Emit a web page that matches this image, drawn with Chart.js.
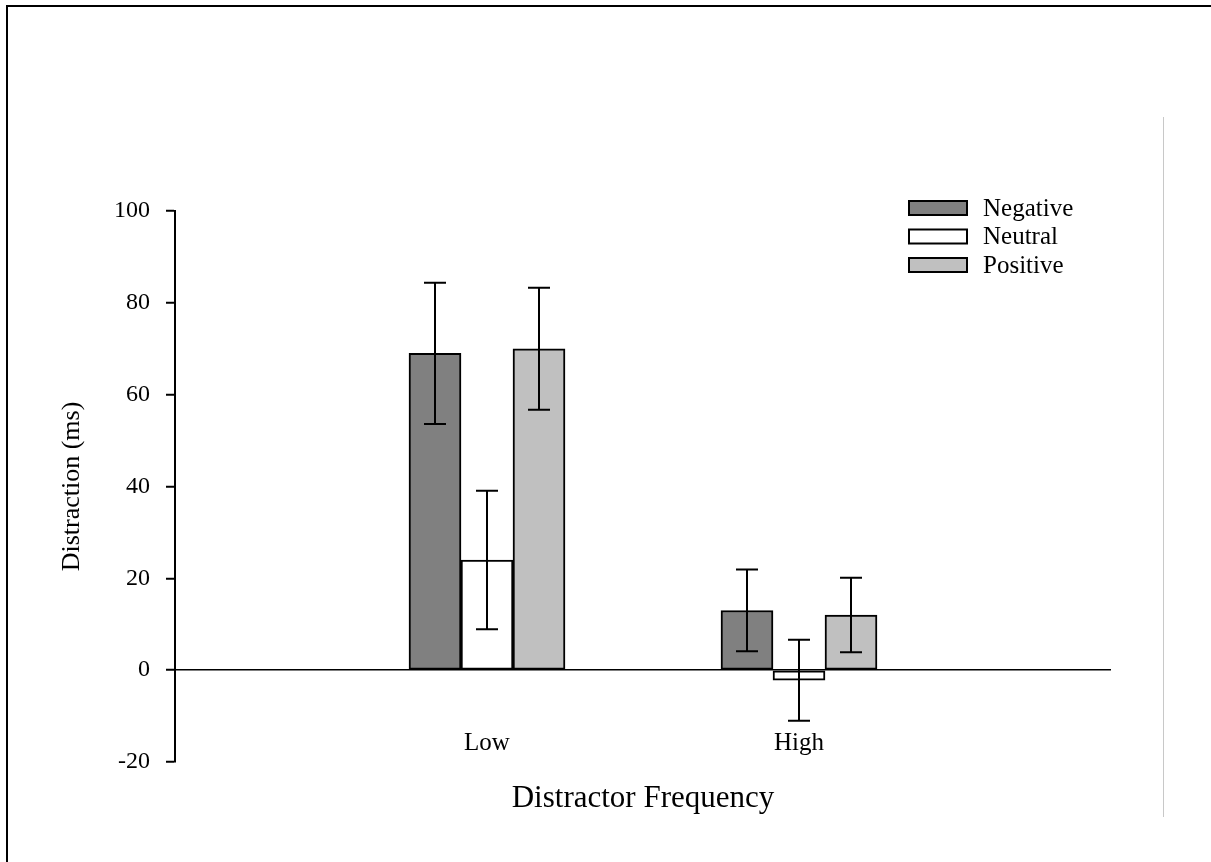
<!DOCTYPE html>
<html>
<head>
<meta charset="utf-8">
<title>Distraction by Distractor Frequency</title>
<script src="https://cdn.jsdelivr.net/npm/chart.js@4.4.1/dist/chart.umd.min.js"></script>
<style>
  html, body { margin: 0; padding: 0; background: #fff; }
  #wrap { position: relative; width: 1211px; height: 862px; }
</style>
</head>
<body>
<div id="wrap"><canvas id="chart" width="1211" height="862"></canvas></div>
<script>
// Data
const categories = ['Low', 'High'];
const seriesNames = ['Negative', 'Neutral', 'Positive'];
const negativeValues = [69.0, 13.0];
const neutralValues = [24.0, -2.2];
const positiveValues = [70.0, 12.0];
const negativeErr = [15.4, 8.9];
const neutralErr = [15.1, 8.8];
const positiveErr = [13.3, 8.1];
const yTicks = [-20, 0, 20, 40, 60, 80, 100];

const fills = ['#808080', '#ffffff', '#c0c0c0'];
const serif = "'Liberation Serif', 'Times New Roman', serif";

// empty slots at both ends so the two groups sit at 1/3 and 2/3 of the axis
const labels = [''].concat(categories, ['']);
function pad(arr) { return [null].concat(arr, [null]); }

// Error bars drawn at each bar's own position
const errorBars = {
    id: 'errorBars',
    afterDatasetsDraw(chart) {
        const ctx = chart.ctx;
        const y = chart.scales.y;
        const errs = [negativeErr, neutralErr, positiveErr];
        ctx.save();
        ctx.strokeStyle = '#000';
        ctx.lineWidth = 2;
        chart.data.datasets.forEach(function(ds, i) {
            const meta = chart.getDatasetMeta(i);
            meta.data.forEach(function(bar, j) {
                const v = ds.data[j];
                if (v === null) return;
                const e = errs[i][j - 1];
                const top = y.getPixelForValue(v + e);
                const bot = y.getPixelForValue(v - e);
                const cap = 11;
                ctx.beginPath();
                ctx.moveTo(bar.x, top); ctx.lineTo(bar.x, bot);
                ctx.moveTo(bar.x - cap, top); ctx.lineTo(bar.x + cap, top);
                ctx.moveTo(bar.x - cap, bot); ctx.lineTo(bar.x + cap, bot);
                ctx.stroke();
            });
        });
        ctx.restore();
    }
};

// Legend in the upper right of the plot
const boxLegend = {
    id: 'boxLegend',
    afterDraw(chart) {
        const ctx = chart.ctx;
        ctx.save();
        ctx.font = '25px ' + serif;
        ctx.textBaseline = 'middle';
        chart.data.datasets.forEach(function(ds, i) {
            const top = 201 + i * 28.5;
            ctx.fillStyle = ds.backgroundColor;
            ctx.fillRect(909, top, 58, 14);
            ctx.strokeStyle = '#000';
            ctx.lineWidth = 2;
            ctx.strokeRect(909, top, 58, 14);
            ctx.fillStyle = '#000';
            ctx.fillText(ds.label, 983, top + 8);
        });
        ctx.restore();
    }
};

// Page frame: black edges at left and top, thin grey rule at right
const frame = {
    id: 'frame',
    beforeDraw(chart) {
        const ctx = chart.ctx;
        ctx.save();
        ctx.fillStyle = '#fff';
        ctx.fillRect(0, 0, chart.width, chart.height);
        ctx.strokeStyle = '#000';
        ctx.lineWidth = 2;
        ctx.beginPath();
        ctx.moveTo(7, 862); ctx.lineTo(7, 6); ctx.lineTo(1211, 6);
        ctx.stroke();
        ctx.strokeStyle = '#c8c8c8';
        ctx.lineWidth = 1;
        ctx.beginPath();
        ctx.moveTo(1163.5, 117); ctx.lineTo(1163.5, 817);
        ctx.stroke();
        ctx.restore();
    }
};

const ctx = document.getElementById('chart').getContext('2d');
const chart = new Chart(ctx, {
    type: 'bar',
    data: {
        labels: labels,
        datasets: [
            { label: seriesNames[0], data: pad(negativeValues), backgroundColor: fills[0] },
            { label: seriesNames[1], data: pad(neutralValues), backgroundColor: fills[1] },
            { label: seriesNames[2], data: pad(positiveValues), backgroundColor: fills[2] }
        ]
    },
    options: {
        responsive: false,
        animation: false,
        devicePixelRatio: 1,
        layout: { padding: { left: 55, right: 100, top: 211, bottom: 45 } },
        datasets: {
            bar: {
                barThickness: 52,
                borderColor: '#000',
                borderWidth: 2,
                borderSkipped: false
            }
        },
        plugins: {
            legend: { display: false },
            tooltip: { enabled: false }
        },
        scales: {
            x: {
                offset: false,
                grid: { display: false },
                border: { display: false },
                ticks: {
                    color: '#000',
                    font: { family: serif, size: 25 },
                    mirror: true,
                    padding: 4,
                    autoSkip: false,
                    maxRotation: 0
                },
                title: {
                    display: true,
                    text: 'Distractor Frequency',
                    color: '#000',
                    font: { family: serif, size: 31 },
                    padding: { top: 0, bottom: 0 }
                },
                afterFit: function(scale) { scale.height = 55; }
            },
            y: {
                min: -20,
                max: 100,
                afterBuildTicks: function(scale) {
                    scale.ticks = yTicks.map(function(v) { return { value: v }; });
                },
                border: { display: true, color: '#000', width: 2 },
                grid: {
                    drawOnChartArea: true,
                    drawTicks: true,
                    tickLength: 9,
                    tickColor: '#000',
                    tickWidth: 2,
                    color: function(c) { return c.tick && c.tick.value === 0 ? '#000' : 'rgba(0,0,0,0)'; },
                    lineWidth: 1.5
                },
                ticks: {
                    color: '#000',
                    font: { family: serif, size: 24 },
                    padding: 16
                },
                title: {
                    display: true,
                    text: 'Distraction (ms)',
                    color: '#000',
                    font: { family: serif, size: 26 },
                    padding: { top: 2, bottom: 0 }
                },
                afterFit: function(scale) { scale.width = 120; }
            }
        }
    },
    plugins: [frame, errorBars, boxLegend]
});
</script>
</body>
</html>
